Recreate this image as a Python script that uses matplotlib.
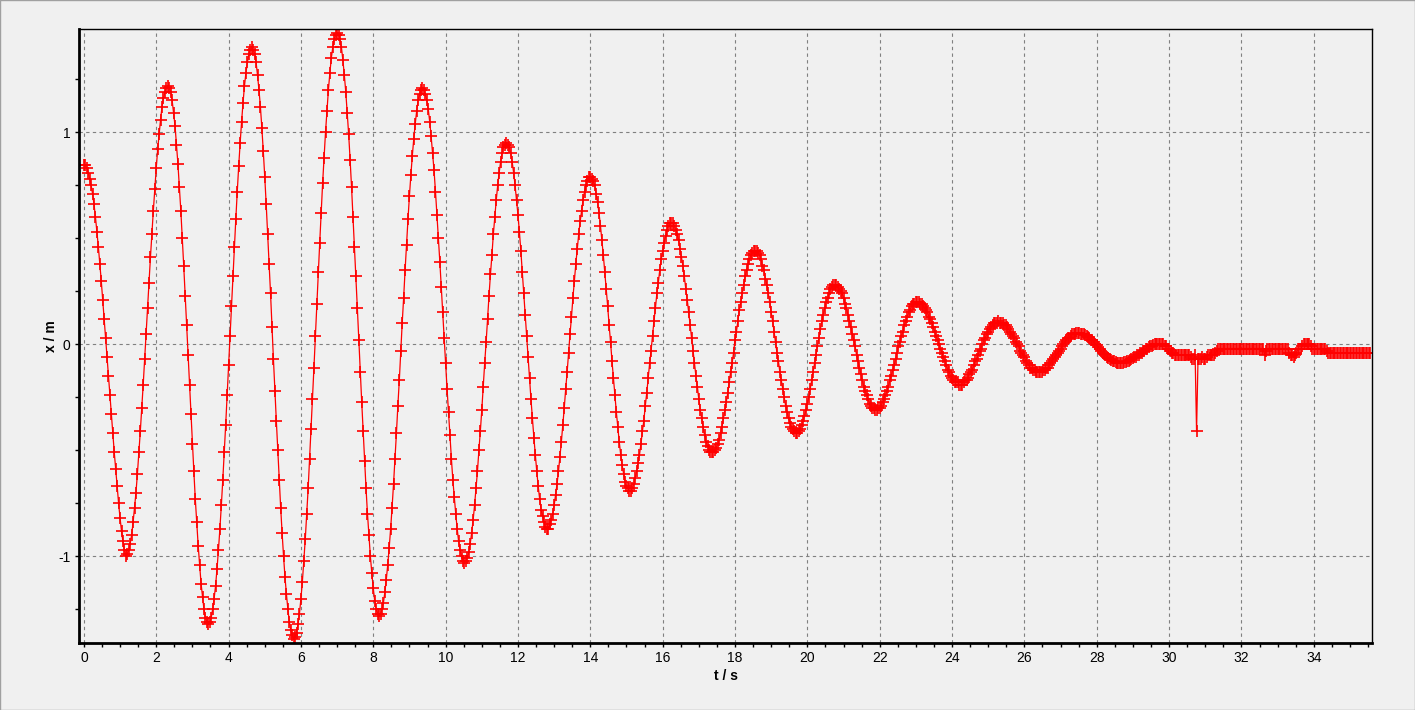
import matplotlib.pyplot as plt
import numpy as np
from matplotlib.ticker import MultipleLocator
from matplotlib.patches import Rectangle

plt.rcParams['font.family'] = ['Liberation Sans', 'DejaVu Sans']
plt.rcParams['axes.unicode_minus'] = False

# time between two video frames (s)
frame_dt = 0.04

# measured position x / m, one value per frame
x_m = [
    0.845,
    0.845, 0.83, 0.81, 0.78, 0.75, 0.71, 0.66, 0.60, 0.53, 0.46, 0.38, 0.30, 0.21, 0.12, 0.03,
    -0.06, -0.15, -0.24, -0.33, -0.42, -0.51, -0.59, -0.67, -0.75, -0.82, -0.88, -0.93, -0.97, -1.0,
    -0.99, -0.97, -0.94, -0.90, -0.84, -0.77, -0.70, -0.61, -0.51, -0.41, -0.30, -0.19, -0.07, 0.05, 0.17,
    0.29, 0.41, 0.52, 0.63, 0.73, 0.83, 0.92, 0.99, 1.06, 1.12, 1.16, 1.19, 1.21, 1.22,
    1.21, 1.19, 1.15, 1.09, 1.03, 0.94, 0.85, 0.74, 0.63, 0.50, 0.37, 0.23, 0.09, -0.05,
    -0.19, -0.33, -0.47, -0.60, -0.73, -0.84, -0.95, -1.04, -1.13, -1.19, -1.25, -1.29, -1.31, -1.32,
    -1.31, -1.29, -1.25, -1.20, -1.14, -1.06, -0.97, -0.87, -0.76, -0.64, -0.51, -0.38, -0.24, -0.10, 0.04,
    0.18, 0.32, 0.46, 0.59, 0.72, 0.84, 0.95, 1.05, 1.14, 1.22, 1.28, 1.33, 1.37, 1.39, 1.40,
    1.39, 1.37, 1.33, 1.27, 1.20, 1.12, 1.02, 0.91, 0.79, 0.66, 0.52, 0.38, 0.24, 0.08, -0.07,
    -0.22, -0.36, -0.50, -0.64, -0.77, -0.89, -1.00, -1.10, -1.18, -1.25, -1.31, -1.35, -1.37, -1.39,
    -1.38, -1.36, -1.32, -1.27, -1.20, -1.12, -1.02, -0.92, -0.80, -0.68, -0.54, -0.40, -0.26, -0.11, 0.04,
    0.19, 0.34, 0.48, 0.62, 0.76, 0.88, 1.00, 1.10, 1.20, 1.28, 1.35, 1.40, 1.44, 1.46, 1.47,
    1.46, 1.44, 1.40, 1.34, 1.27, 1.19, 1.09, 0.99, 0.87, 0.74, 0.60, 0.46, 0.32, 0.17, 0.02,
    -0.13, -0.27, -0.41, -0.55, -0.68, -0.80, -0.90, -1.00, -1.08, -1.15, -1.21, -1.25, -1.27, -1.28,
    -1.27, -1.25, -1.22, -1.17, -1.11, -1.04, -0.96, -0.87, -0.77, -0.66, -0.54, -0.42, -0.29, -0.17, -0.03,
    0.10, 0.22, 0.35, 0.47, 0.59, 0.70, 0.80, 0.89, 0.97, 1.04, 1.10, 1.15, 1.18, 1.20, 1.21,
    1.20, 1.18, 1.15, 1.11, 1.05, 0.98, 0.90, 0.82, 0.72, 0.61, 0.50, 0.39, 0.27, 0.15, 0.03,
    -0.09, -0.21, -0.32, -0.43, -0.54, -0.64, -0.72, -0.80, -0.87, -0.93, -0.97, -1.00, -1.02, -1.03,
    -1.02, -1.01, -0.98, -0.94, -0.89, -0.83, -0.76, -0.68, -0.60, -0.50, -0.41, -0.31, -0.20, -0.09, 0.01,
    0.12, 0.23, 0.33, 0.42, 0.52, 0.60, 0.68, 0.75, 0.81, 0.86, 0.90, 0.93, 0.94, 0.95,
    0.94, 0.93, 0.90, 0.86, 0.81, 0.75, 0.68, 0.61, 0.53, 0.44, 0.34, 0.24, 0.14, 0.04,
    -0.06, -0.16, -0.26, -0.35, -0.44, -0.52, -0.60, -0.67, -0.73, -0.78, -0.81, -0.84, -0.86, -0.87,
    -0.87, -0.85, -0.83, -0.80, -0.76, -0.71, -0.66, -0.60, -0.53, -0.46, -0.38, -0.30, -0.21, -0.13, -0.04,
    0.05, 0.13, 0.22, 0.30, 0.38, 0.45, 0.52, 0.58, 0.63, 0.68, 0.72, 0.75, 0.77, 0.79, 0.79,
    0.78, 0.77, 0.75, 0.71, 0.67, 0.62, 0.56, 0.49, 0.42, 0.34, 0.26, 0.18, 0.09, 0.01,
    -0.08, -0.16, -0.24, -0.32, -0.39, -0.46, -0.52, -0.57, -0.61, -0.65, -0.67, -0.68, -0.69,
    -0.69, -0.68, -0.66, -0.63, -0.60, -0.56, -0.52, -0.47, -0.41, -0.36, -0.29, -0.23, -0.16, -0.09, -0.03,
    0.04, 0.11, 0.17, 0.24, 0.29, 0.35, 0.40, 0.44, 0.48, 0.51, 0.54, 0.56, 0.57, 0.57,
    0.57, 0.56, 0.54, 0.52, 0.49, 0.45, 0.41, 0.37, 0.32, 0.26, 0.21, 0.15, 0.09, 0.03,
    -0.03, -0.09, -0.15, -0.20, -0.26, -0.31, -0.35, -0.39, -0.43, -0.46, -0.48, -0.50, -0.51, -0.51,
    -0.51, -0.50, -0.49, -0.47, -0.45, -0.42, -0.39, -0.35, -0.31, -0.27, -0.23, -0.18, -0.13, -0.09, -0.04,
    0.02, 0.06, 0.11, 0.16, 0.20, 0.24, 0.28, 0.32, 0.35, 0.38, 0.40, 0.42, 0.43, 0.44, 0.44,
    0.44, 0.43, 0.42, 0.40, 0.37, 0.35, 0.31, 0.28, 0.24, 0.20, 0.15, 0.11, 0.06, 0.01,
    -0.04, -0.08, -0.13, -0.17, -0.21, -0.25, -0.29, -0.32, -0.35, -0.37, -0.39, -0.40, -0.41, -0.42,
    -0.42, -0.41, -0.40, -0.38, -0.36, -0.34, -0.31, -0.28, -0.25, -0.21, -0.17, -0.13, -0.09, -0.05,
    -0.01, 0.03, 0.07, 0.11, 0.14, 0.17, 0.20, 0.22, 0.24, 0.26, 0.27, 0.28, 0.28,
    0.28, 0.27, 0.26, 0.25, 0.24, 0.22, 0.19, 0.17, 0.14, 0.11, 0.08, 0.05, 0.02, -0.01,
    -0.05, -0.08, -0.11, -0.14, -0.17, -0.20, -0.22, -0.24, -0.26, -0.28, -0.29, -0.30, -0.30, -0.31,
    -0.31, -0.30, -0.30, -0.29, -0.27, -0.26, -0.24, -0.22, -0.20, -0.17, -0.15, -0.12, -0.10, -0.07, -0.04,
    -0.01, 0.01, 0.04, 0.06, 0.09, 0.11, 0.13, 0.15, 0.16, 0.18, 0.19, 0.19, 0.20, 0.20,
    0.20, 0.19, 0.19, 0.18, 0.17, 0.16, 0.15, 0.13, 0.12, 0.10, 0.08, 0.06, 0.04, 0.02, 0.0,
    -0.02, -0.04, -0.06, -0.08, -0.10, -0.12, -0.13, -0.15, -0.16, -0.17, -0.18, -0.18, -0.18, -0.19,
    -0.19, -0.19, -0.18, -0.17, -0.17, -0.16, -0.14, -0.13, -0.12, -0.10, -0.08, -0.07, -0.05, -0.03,
    -0.02, 0.0, 0.02, 0.03, 0.05, 0.06, 0.07, 0.08, 0.09, 0.10, 0.10, 0.10, 0.11,
    0.10, 0.10, 0.10, 0.09, 0.09, 0.08, 0.07, 0.06, 0.05, 0.04, 0.03, 0.01, 0.0, -0.01,
    -0.03, -0.04, -0.05, -0.06, -0.08, -0.09, -0.10, -0.11, -0.11, -0.12, -0.12, -0.13, -0.13, -0.13,
    -0.13, -0.13, -0.12, -0.12, -0.11, -0.11, -0.10, -0.09, -0.08, -0.07, -0.06, -0.05, -0.04, -0.03,
    -0.02, -0.01, 0.0, 0.01, 0.02, 0.03, 0.03, 0.04, 0.05, 0.05, 0.05, 0.055, 0.055,
    0.055, 0.05, 0.05, 0.05, 0.045, 0.04, 0.035, 0.03, 0.02, 0.02, 0.01, 0.0, -0.005, -0.015, -0.02,
    -0.03, -0.04, -0.045, -0.05, -0.06, -0.065, -0.07, -0.075, -0.08, -0.08, -0.085, -0.09, -0.09, -0.09,
    -0.09, -0.09, -0.085, -0.085, -0.08, -0.08, -0.075, -0.07, -0.065, -0.06, -0.06, -0.05, -0.05, -0.04,
    -0.04, -0.03, -0.03, -0.02, -0.02, -0.015, -0.01, -0.01, -0.005, 0.0, 0.0, 0.0, 0.0,
    0.0, 0.0, 0.0, -0.01, -0.01, -0.02, -0.02, -0.03, -0.04, -0.04,
    -0.05, -0.05, -0.05, -0.05, -0.05, -0.05, -0.05, -0.05, -0.05, -0.05, -0.05,
    -0.06, -0.07, -0.07, -0.05, -0.41, -0.07, -0.07, -0.07, -0.06, -0.07, -0.07, -0.06,
    -0.05, -0.05, -0.05, -0.05, -0.05, -0.04, -0.03,
    -0.02, -0.02, -0.02, -0.02, -0.02, -0.02, -0.02, -0.02, -0.02, -0.02, -0.02, -0.02, -0.02, -0.02, -0.02, -0.02,
    -0.02, -0.02, -0.02, -0.02, -0.02, -0.02, -0.02, -0.02, -0.02, -0.02, -0.02, -0.02, -0.02, -0.02, -0.02, -0.02,
    -0.05, -0.03,
    -0.02, -0.02, -0.02, -0.02, -0.02, -0.02, -0.02, -0.02, -0.02, -0.02, -0.02, -0.02, -0.02, -0.02, -0.02,
    -0.04, -0.05, -0.05, -0.06, -0.05, -0.04, -0.02, -0.02, -0.02, -0.01,
    0.0, 0.0, 0.0, 0.0, 0.0, -0.01,
    -0.02, -0.02, -0.02, -0.02, -0.02, -0.02, -0.02, -0.02, -0.02, -0.02, -0.03,
    -0.04, -0.04, -0.04, -0.04, -0.04, -0.04, -0.04, -0.04, -0.04, -0.04, -0.04, -0.04, -0.04, -0.04, -0.04,
    -0.04, -0.04, -0.04, -0.04, -0.04, -0.04, -0.04, -0.04, -0.04, -0.04, -0.04, -0.04, -0.04, -0.04, -0.04,
]

t_s = np.arange(len(x_m)) * frame_dt

x_ticks = list(range(0, 36, 2))
y_ticks = [-1, 0, 1]

W, H = 1415, 710
fig = plt.figure(figsize=(W / 100, H / 100), dpi=100, facecolor='#f0f0f0')
ax = fig.add_axes([79 / W, 1 - 643 / H, (1372 - 79) / W, (643 - 29) / H])
ax.set_facecolor('#f0f0f0')

ax.plot(t_s, x_m, color='red', lw=0.9, marker='+', ms=8, mew=1.2)

ax.set_xlim(-0.135, 35.61)
ax.set_ylim(-1.409, 1.487)
ax.set_xticks(x_ticks)
ax.set_yticks(y_ticks)
ax.xaxis.set_minor_locator(MultipleLocator(0.5))
ax.yaxis.set_minor_locator(MultipleLocator(0.25))
ax.grid(True, which='major', color='#808080', ls=(0, (3, 3)), lw=0.8)
ax.set_axisbelow(True)
ax.tick_params(which='major', length=3, width=1, labelsize=10, pad=3, colors='black')
ax.tick_params(which='minor', length=3, width=1)

for side in ['left', 'bottom']:
    ax.spines[side].set_linewidth(2)
for side in ['top', 'right']:
    ax.spines[side].set_linewidth(1)

ax.set_xlabel('t / s', fontweight='bold', fontsize=10, labelpad=3)
ax.set_ylabel('x / m', fontweight='bold', fontsize=10, labelpad=0)

fig.add_artist(Rectangle((0, 0), 1, 1, transform=fig.transFigure, fill=False,
                         edgecolor='#a0a0a0', lw=1))

fig.savefig('out.png', dpi=100, facecolor=fig.get_facecolor())
